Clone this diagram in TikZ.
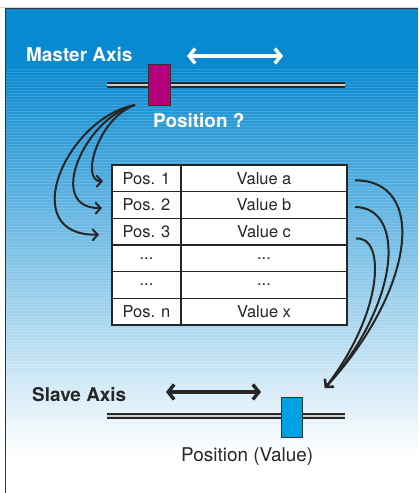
\documentclass[tikz,border=0pt]{standalone}
\usepackage{fontspec}
\setmainfont{TeX Gyre Heros}
\usetikzlibrary{positioning,arrows.meta}
\definecolor{bgtop}{RGB}{8,137,208}
\definecolor{bgmid}{RGB}{95,180,230}
\definecolor{masterred}{RGB}{180,0,122}
\definecolor{slaveblue}{RGB}{0,160,228}

\begin{document}
\begin{tikzpicture}[x=1bp,y=-1bp,
  cell/.style = {draw=black!85, fill=white, line width=1.2bp, outer sep=0pt, inner sep=0pt, minimum height=26.67bp, font=\fontsize{16.5}{18}\selectfont, text=black!85},
  poscell/.style = {cell, minimum width=69bp},
  valcell/.style = {cell, minimum width=166bp},
  axislabel/.style = {font=\fontsize{19}{22}\selectfont\bfseries, anchor=base west, inner sep=0pt},
  slider/.style = {draw=black!80, line width=1bp, inner sep=0pt},
  rod/.style = {draw=black!85, double=black!20, double distance=1.8bp, line width=2bp},
  link/.style = {line width=2bp, black!85, -{Straight Barb[length=5bp,width=11bp,line cap=round]}},
  move/.style = {line width=3.4bp, {Straight Barb[length=6bp,width=15bp]}-{Straight Barb[length=6bp,width=15bp]}},
  stripe/.style = {white, opacity=0.15, line width=1bp}]
\useasboundingbox (0,0) rectangle (418,493);
% background
\fill[white] (0,0) rectangle (418,493);
\fill[bgtop] (5,9) rectangle (418,68);
\shade[top color=bgtop, middle color=bgmid, bottom color=white] (5,68) rectangle (418,455);
\foreach \y in {70,73,...,452}
  \draw[stripe] (5,\y) -- (418,\y);
\draw[black!15] (0,7.5) -- (418,7.5);
\draw[black!80, line width=1bp] (5,493) -- (5,9) -- (418,9);

% master axis
\coordinate (mrodL) at (107,85);
\coordinate (mrodR) at (345,85);
\draw[rod] (mrodL) -- (mrodR);
\node[slider, fill=masterred, minimum width=22bp, minimum height=41bp] (mslider) at (159,85.5) {};
\node[axislabel, white] (mlabel) at (26,62) {Master Axis};
\node[axislabel, white] (mquery) at (153,128) {Position ?};
\coordinate (marrL) at (187,56);
\coordinate (marrR) at (283,56);
\draw[move, white] (marrL) -- (marrR);
\coordinate (mtap) at (135,105);

% table
\node[poscell, anchor=north west] (p1) at (112,165) {Pos. 1};
\node[poscell, below=0pt of p1] (p2) {Pos. 2};
\node[poscell, below=0pt of p2] (p3) {Pos. 3};
\node[poscell, below=0pt of p3] (p4) {...};
\node[poscell, below=0pt of p4] (p5) {...};
\node[poscell, below=0pt of p5] (pn) {Pos. n};
\node[valcell, right=0pt of p1] (va) {Value a};
\node[valcell, right=0pt of p2] (vb) {Value b};
\node[valcell, right=0pt of p3] (vc) {Value c};
\node[valcell, right=0pt of p4] (v4) {...};
\node[valcell, right=0pt of p5] (v5) {...};
\node[valcell, right=0pt of pn] (vx) {Value x};

% slave axis
\coordinate (srodL) at (107,416);
\coordinate (srodR) at (345,416);
\draw[rod] (srodL) -- (srodR);
\node[slider, fill=slaveblue, minimum width=21bp, minimum height=40bp] (sslider) at (291.5,417) {};
\node[axislabel, black!85] (slabel) at (32,401) {Slave Axis};
\node[axislabel, black!85, font=\fontsize{19}{22}\selectfont] (svalue) at (181,461) {Position (Value)};
\coordinate (sarrL) at (166,392);
\coordinate (sarrR) at (261,392);
\draw[move, black!85] (sarrL) -- (sarrR);
\coordinate (starget) at (325,388);

% lookups
\draw[link] (mtap) .. controls (98,118) and (80,181) .. ([shift={(-9,3)}]p1.west);
\draw[link] (mtap) .. controls (84,118) and (45,209) .. ([shift={(-10,3)}]p2.west);
\draw[link] (mtap) .. controls (66,118) and (15,236) .. ([shift={(-13,3)}]p3.west);
\draw[link] ([shift={(8,2)}]va.east) .. controls (428,180) and (415,290) .. (starget);
\draw[link] ([shift={(8,2)}]vb.east) .. controls (405,207) and (402,300) .. (starget);
\draw[link] ([shift={(9,7)}]vc.east) .. controls (385,235) and (385,310) .. (starget);
\end{tikzpicture}
\end{document}
